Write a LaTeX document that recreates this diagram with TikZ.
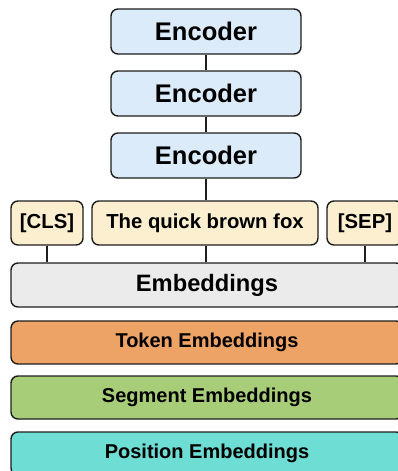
\documentclass[tikz,border=0pt]{standalone}
\usepackage{fontspec}
\setmainfont{Liberation Sans}
\definecolor{encfill}{HTML}{DCEBFA}
\definecolor{tokfill}{HTML}{FCEFD0}
\definecolor{embfill}{HTML}{EBEBEB}
\definecolor{orangefill}{HTML}{EDA366}
\definecolor{greenfill}{HTML}{A8CD78}
\definecolor{tealfill}{HTML}{6EDDD4}
\definecolor{edge}{HTML}{1E1E1E}
\tikzset{
  box/.style={draw=edge, line width=1.4pt, rounded corners=7pt, inner sep=0pt, align=center, text=black},
  encbox/.style={box, fill=encfill, minimum width=190pt, minimum height=45pt, font=\fontsize{25.5}{28}\selectfont\bfseries},
  tokbox/.style={box, fill=tokfill, minimum height=44pt, font=\fontsize{20.3}{23}\selectfont\bfseries},
  layerbox/.style={box, minimum width=392pt, minimum height=43pt, font=\fontsize{20}{23}\selectfont\bfseries},
  link/.style={draw=edge, line width=1.4pt}
}
\begin{document}
\begin{tikzpicture}[x=1pt,y=-1pt]
\useasboundingbox (0,0) rectangle (398,471);
\clip (0,0) rectangle (398,471);
\fill[white] (0,0) rectangle (398,471);
\node[encbox] (e1) at (206,31.5) {Encoder};
\node[encbox] (e2) at (206,93.5) {Encoder};
\node[encbox] (e3) at (206,155.5) {Encoder};
\node[tokbox, minimum width=72pt] (cls) at (47,223) {[CLS]};
\node[tokbox, minimum width=226pt] (fox) at (205,223) {The quick brown fox};
\node[tokbox, minimum width=76pt] (sep) at (365,223) {[SEP]};
\node[layerbox, fill=embfill, minimum height=44pt, font=\fontsize{23.7}{26}\selectfont\bfseries] (emb) at (207,285) {Embeddings};
\node[layerbox, fill=orangefill] (tok) at (207,342.5) {Token Embeddings};
\node[layerbox, fill=greenfill] (seg) at (207,397.5) {Segment Embeddings};
\node[layerbox, fill=tealfill] (pos) at (207,453.5) {Position Embeddings};
\draw[link] (e1.south) -- (e2.north);
\draw[link] (e2.south) -- (e3.north);
\draw[link] (e3.south) -- (fox.north -| e3.south);
\draw[link] (cls.south) -- (cls.south |- emb.north);
\draw[link] (fox.south -| e3.south) -- (emb.north -| e3.south);
\draw[link] (sep.south) -- (sep.south |- emb.north);
\end{tikzpicture}
\end{document}
